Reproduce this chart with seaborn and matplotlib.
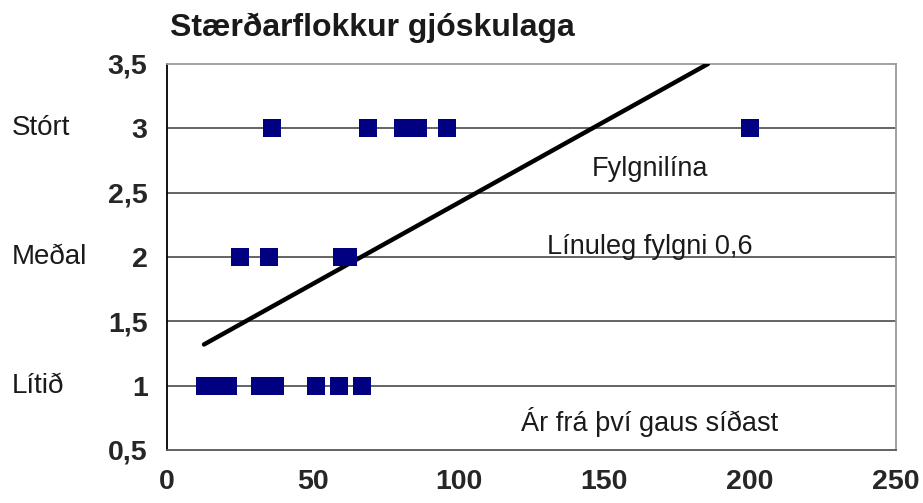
import seaborn as sns
import matplotlib.pyplot as plt
import matplotlib.transforms as mtransforms
import pandas as pd

# years since last eruption vs tephra size class (1 = small, 2 = medium, 3 = large)
small_years = [13, 17, 21, 32, 35, 37, 51, 59, 67]
medium_years = [25, 35, 60, 62]
large_years = [36, 69, 81, 86, 96, 200]

# trend line end points as drawn in the chart
trend_x = [12.7, 185.5]
trend_y = [1.32, 3.5]

y_ticks = [0.5, 1, 1.5, 2, 2.5, 3, 3.5]
y_tick_labels = ['0,5', '1', '1,5', '2', '2,5', '3', '3,5']
x_ticks = [0, 50, 100, 150, 200, 250]
class_names = ['Lítið', 'Meðal', 'Stórt']
class_values = [1, 2, 3]

data = pd.DataFrame({
    'years': small_years + medium_years + large_years,
    'size': [1] * len(small_years) + [2] * len(medium_years) + [3] * len(large_years),
})
trend = pd.DataFrame({'x': trend_x, 'y': trend_y})

sns.set_style('white')
plt.rcParams['font.family'] = ['Liberation Sans', 'DejaVu Sans']

fig = plt.figure(figsize=(9.23, 5.03), dpi=100)
ax = fig.add_axes([0.1809, 0.1054, 0.9707 - 0.1809, 0.8728 - 0.1054])

# gridlines
for v in [1, 1.5, 2, 2.5, 3]:
    ax.axhline(v, color='#3a3a3a', lw=1.1, zorder=1)

sns.lineplot(data=trend, x='x', y='y', color='black', lw=3.2, ax=ax, zorder=3)
sns.scatterplot(data=data, x='years', y='size', marker='s', s=13 ** 2,
                color='#000080', edgecolor='none', linewidth=0, ax=ax, zorder=4)

ax.set_xlim(0, 250)
ax.set_ylim(0.5, 3.5)
ax.set_xticks(x_ticks)
ax.set_xticklabels([str(t) for t in x_ticks], fontsize=20.5, fontweight='bold')
ax.set_yticks(y_ticks)
ax.set_yticklabels(y_tick_labels, fontsize=20.5, fontweight='bold')
ax.set_xlabel('')
ax.set_ylabel('')
ax.tick_params(axis='both', direction='out', length=6, width=1, color='black', pad=8)

ax.spines['left'].set_color('black')
ax.spines['bottom'].set_color('#555555')
ax.spines['top'].set_color('#9a9a9a')
ax.spines['right'].set_color('#9a9a9a')
for s in ax.spines.values():
    s.set_linewidth(1.3)

# category labels on the left
trans = mtransforms.blended_transform_factory(fig.transFigure, ax.transData)
for name, val in zip(class_names, class_values):
    ax.text(0.013, val, name, transform=trans, fontsize=20, ha='left', va='center',
            color='#1a1a1a')

ax.text(165.6, 2.68, 'Fylgnilína', fontsize=19.5, ha='center', va='center', color='#1a1a1a')
ax.text(165.6, 2.08, 'Línuleg fylgni 0,6', fontsize=19.5, ha='center', va='center', color='#1a1a1a')
ax.text(165.6, 0.72, 'Ár frá því gaus síðast', fontsize=19.5, ha='center', va='center', color='#1a1a1a')

fig.text(0.184, 0.945, 'Stærðarflokkur gjóskulaga', fontsize=23, fontweight='bold',
         ha='left', va='center', color='#1a1a1a')

plt.savefig('out.png', dpi=100)
